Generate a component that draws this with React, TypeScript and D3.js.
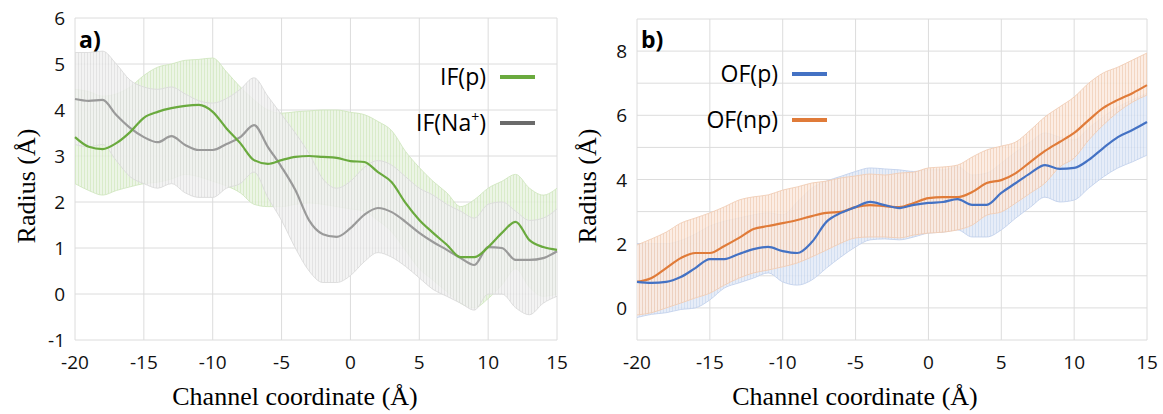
import React, { useEffect, useRef } from "react";
import * as d3 from "d3";

// channel coordinate samples (Å)
const coords = [
  -20, -19, -18, -17, -16, -15, -14, -13, -12, -11, -10, -9, -8, -7, -6, -5, -4, -3,
  -2, -1, 0, 1, 2, 3, 4, 5, 6, 7, 8, 9, 10, 11, 12, 13, 14, 15,
];

// panel a) inward-facing
const ifP = [
  3.41, 3.2, 3.15, 3.28, 3.52, 3.83, 3.96, 4.04, 4.09, 4.11, 3.96, 3.6, 3.28, 2.91, 2.83, 2.91, 2.98, 3.0,
  2.98, 2.96, 2.89, 2.87, 2.65, 2.43, 1.98, 1.61, 1.33, 1.07, 0.8, 0.8, 1.02, 1.33, 1.57, 1.17, 1.02, 0.96,
];
const ifPUp = [
  4.45, 4.4, 4.3, 4.35, 4.5, 4.75, 4.93, 5.0, 5.08, 5.1, 5.13, 4.83, 4.5, 4.22, 4.0, 3.93, 3.96, 3.98,
  4.0, 4.0, 3.95, 3.9, 3.75, 3.55, 3.1, 2.75, 2.45, 2.2, 1.9, 2.05, 2.3, 2.45, 2.6, 2.3, 2.15, 2.3,
];
const ifPLo = [
  2.4, 2.25, 2.15, 2.25, 2.33, 2.4, 2.43, 2.5, 2.6, 2.55, 2.45, 2.35, 2.2, 1.95, 1.9, 1.9, 1.95, 1.98,
  1.95, 1.9, 1.85, 1.8, 1.6, 1.35, 0.95, 0.55, 0.3, 0.05, -0.2, -0.3, -0.1, 0.2, 0.55, 0.15, -0.05, 0.0,
];
const ifNa = [
  4.24, 4.2, 4.22, 3.89, 3.61, 3.41, 3.3, 3.43, 3.24, 3.13, 3.13, 3.26, 3.41, 3.67, 3.2, 2.76, 2.26, 1.6,
  1.3, 1.24, 1.43, 1.72, 1.87, 1.78, 1.57, 1.33, 1.13, 0.96, 0.78, 0.63, 1.02, 1.0, 0.74, 0.74, 0.78, 0.93,
];
const ifNaUp = [
  5.25, 5.25, 5.28, 5.0, 4.65, 4.5, 4.45, 4.5, 4.35, 4.2, 4.15, 4.25, 4.45, 4.7, 4.3, 3.9, 3.5, 3.05,
  2.5, 2.3, 2.45, 2.75, 2.9, 2.8, 2.55, 2.3, 2.15, 1.95, 1.8, 1.65, 1.95, 2.0, 1.8, 1.6, 1.65, 1.85,
];
const ifNaLo = [
  3.25, 3.2, 3.25, 2.9, 2.55, 2.4, 2.3, 2.4, 2.2, 2.1, 2.1, 2.3, 2.4, 2.65, 2.1, 1.6, 1.0, 0.5,
  0.25, 0.25, 0.4, 0.7, 0.9, 0.8, 0.6, 0.35, 0.1, -0.05, -0.2, -0.35, 0.0, 0.0, -0.3, -0.45, -0.2, -0.05,
];

// panel b) outward-facing
const ofP = [
  0.81, 0.78, 0.81, 0.96, 1.24, 1.52, 1.52, 1.68, 1.83, 1.9, 1.77, 1.71, 2.05, 2.68, 2.96, 3.14, 3.3, 3.2,
  3.11, 3.21, 3.27, 3.3, 3.39, 3.21, 3.21, 3.58, 3.89, 4.2, 4.45, 4.33, 4.36, 4.61, 4.98, 5.32, 5.54, 5.79,
];
const ofPUp = [
  2.0, 2.0, 2.0, 2.1, 2.3, 2.55, 2.7, 2.8, 2.9, 2.96, 2.9, 3.3, 3.73, 3.95, 4.1, 4.25, 4.36, 4.33,
  4.3, 4.25, 4.3, 4.3, 4.4, 4.14, 4.2, 4.51, 4.86, 5.17, 5.45, 5.32, 5.23, 5.6, 5.95, 6.26, 6.48, 6.69,
];
const ofPLo = [
  -0.3, -0.2, -0.15, -0.05, 0.0, 0.25, 0.62, 0.78, 0.93, 1.09, 0.81, 0.71, 0.87, 1.24, 1.59, 1.9, 2.12, 2.15,
  2.12, 2.21, 2.33, 2.36, 2.43, 2.21, 2.21, 2.43, 2.8, 3.14, 3.45, 3.3, 3.36, 3.73, 4.08, 4.36, 4.55, 4.76,
];
const ofNp = [
  0.81, 0.93, 1.24, 1.55, 1.71, 1.71, 1.93, 2.18, 2.46, 2.55, 2.64, 2.74, 2.86, 2.96, 2.99, 3.14, 3.2, 3.17,
  3.14, 3.27, 3.42, 3.45, 3.45, 3.61, 3.89, 3.98, 4.2, 4.55, 4.89, 5.17, 5.45, 5.85, 6.23, 6.48, 6.69, 6.94,
];
const ofNpUp = [
  1.96, 2.15, 2.36, 2.64, 2.8, 2.96, 3.15, 3.36, 3.46, 3.52, 3.67, 3.77, 3.89, 3.95, 4.05, 4.11, 4.17, 4.14,
  4.2, 4.23, 4.36, 4.39, 4.45, 4.7, 4.92, 5.04, 5.17, 5.54, 5.95, 6.26, 6.57, 7.0, 7.32, 7.5, 7.72, 7.94,
];
const ofNpLo = [
  -0.22, -0.15, 0.0, 0.15, 0.31, 0.46, 0.71, 0.93, 1.09, 1.18, 1.28, 1.4, 1.59, 1.8, 2.02, 2.18, 2.21, 2.21,
  2.18, 2.27, 2.33, 2.36, 2.43, 2.58, 2.89, 2.99, 3.27, 3.58, 3.89, 4.39, 4.67, 5.23, 5.7, 6.1, 6.41, 6.63,
];

const xTicks = [-20, -15, -10, -5, 0, 5, 10, 15];
const yTicksA = [-1, 0, 1, 2, 3, 4, 5, 6];
const yGridB = [-1, 0, 1, 2, 3, 4, 5, 6, 7, 8, 9];
const yTicksB = [0, 2, 4, 6, 8];

const TICK_FONT = "'Open Sans', Lato, sans-serif";
const TITLE_FONT = "'Liberation Serif', 'DejaVu Serif', serif";

type Series = {
  mean: number[];
  up: number[];
  lo: number[];
  color: string;
  legendColor?: string;
  fill: string;
  hatch: string;
  edge: string;
  legend: string;
};

function drawPanel(svg, id, opts) {
  const { x0, x1, y0, y1, yDomain, yGrid, yTicks, series, drawOrder, letter, legendX, legendY } = opts;

  const x = d3.scaleLinear().domain([-20, 15]).range([x0, x1]);
  const y = d3.scaleLinear().domain(yDomain).range([y1, y0]);
  const g = svg.append("g");

  // grid
  g.selectAll(".vg")
    .data(xTicks)
    .join("line")
    .attr("x1", (d) => x(d))
    .attr("x2", (d) => x(d))
    .attr("y1", y0)
    .attr("y2", y1)
    .attr("stroke", "#dcdcdc")
    .attr("stroke-width", 1);
  g.selectAll(".hg")
    .data(yGrid)
    .join("line")
    .attr("x1", x0)
    .attr("x2", x1)
    .attr("y1", (d) => y(d))
    .attr("y2", (d) => y(d))
    .attr("stroke", "#dcdcdc")
    .attr("stroke-width", 1);

  const defs = svg.append("defs");
  const area = d3
    .area<number>()
    .x((_, i) => x(coords[i]))
    .curve(d3.curveMonotoneX);
  const line = d3
    .line<number>()
    .x((_, i) => x(coords[i]))
    .y((d) => y(d))
    .curve(d3.curveMonotoneX);

  // error bands (hatched like excel error bars)
  series.forEach((s: Series, k: number) => {
    const pid = `${id}-hatch-${k}`;
    const pat = defs
      .append("pattern")
      .attr("id", pid)
      .attr("patternUnits", "userSpaceOnUse")
      .attr("width", 3)
      .attr("height", 10);
    pat.append("rect").attr("width", 3).attr("height", 10).attr("fill", s.fill);
    pat
      .append("line")
      .attr("x1", 0.5)
      .attr("x2", 0.5)
      .attr("y1", 0)
      .attr("y2", 10)
      .attr("stroke", s.hatch)
      .attr("stroke-width", 0.8);

    const band = s.mean.map((_, i) => i);
    g.append("path")
      .datum(band)
      .attr("d", area.y0((i) => y(s.lo[i])).y1((i) => y(s.up[i])))
      .attr("fill", `url(#${pid})`)
      .attr("opacity", 0.85);
    [s.up, s.lo].forEach((edge) => {
      g.append("path")
        .datum(edge)
        .attr("d", line)
        .attr("fill", "none")
        .attr("stroke", s.edge)
        .attr("stroke-width", 0.9);
    });
  });

  // mean lines
  drawOrder.forEach((k: number) => {
    const s = series[k];
    g.append("path")
      .datum(s.mean)
      .attr("d", line)
      .attr("fill", "none")
      .attr("stroke", s.color)
      .attr("stroke-width", 2.2)
      .attr("stroke-linejoin", "round");
  });

  // tick labels
  g.selectAll(".xt")
    .data(xTicks)
    .join("text")
    .attr("x", (d) => x(d))
    .attr("y", y1 + 29)
    .attr("text-anchor", "middle")
    .attr("font-family", TICK_FONT)
    .attr("font-size", 19)
    .attr("fill", "#111")
    .text((d) => String(d));
  g.selectAll(".yt")
    .data(yTicks)
    .join("text")
    .attr("x", x0 - 10)
    .attr("y", (d) => y(d) + 7)
    .attr("text-anchor", "end")
    .attr("font-family", TICK_FONT)
    .attr("font-size", 19)
    .attr("fill", "#111")
    .text((d) => String(d));

  // panel letter
  g.append("text")
    .attr("x", x0 + 4)
    .attr("y", 48)
    .attr("font-family", TICK_FONT)
    .attr("font-weight", 700)
    .attr("font-size", 23)
    .attr("fill", "#000")
    .text(letter);

  // legend
  series.forEach((s: Series, k: number) => {
    const ly = legendY + k * 46;
    const t = g
      .append("text")
      .attr("x", legendX)
      .attr("y", ly + 8)
      .attr("text-anchor", "end")
      .attr("font-family", TICK_FONT)
      .attr("font-size", 23)
      .attr("fill", "#000");
    if (s.legend.includes("+")) {
      t.append("tspan").text(s.legend.replace("+)", ""));
      t.append("tspan").attr("font-size", 14).attr("dy", -9).text("+");
      t.append("tspan").attr("dy", 9).text(")");
    } else {
      t.text(s.legend);
    }
    g.append("line")
      .attr("x1", legendX + 14)
      .attr("x2", legendX + 49)
      .attr("y1", ly)
      .attr("y2", ly)
      .attr("stroke", s.legendColor || s.color)
      .attr("stroke-width", 4);
  });

  // axis titles
  g.append("text")
    .attr("x", opts.xTitleX)
    .attr("y", 405)
    .attr("text-anchor", "middle")
    .attr("font-family", TITLE_FONT)
    .attr("font-size", 26)
    .attr("fill", "#000")
    .text("Channel coordinate (Å)");
  g.append("text")
    .attr("transform", `translate(${opts.yTitleX}, 186) rotate(-90)`)
    .attr("text-anchor", "middle")
    .attr("font-family", TITLE_FONT)
    .attr("font-size", 26)
    .attr("fill", "#000")
    .text("Radius (Å)");
}

export default function App() {
  const ref = useRef<SVGSVGElement>(null);

  useEffect(() => {
    const svg = d3.select(ref.current);
    svg.selectAll("*").remove();

    const seriesA: Series[] = [
      {
        mean: ifP,
        up: ifPUp,
        lo: ifPLo,
        color: "#6aaa3e",
        fill: "#e9f3e1",
        hatch: "#cce4b9",
        edge: "#d0e6c0",
        legend: "IF(p)",
      },
      {
        mean: ifNa,
        up: ifNaUp,
        lo: ifNaLo,
        color: "#9a9a9a",
        legendColor: "#6b6b6b",
        fill: "#f1f1f1",
        hatch: "#d9d9d9",
        edge: "#dadada",
        legend: "IF(Na+)",
      },
    ];
    const seriesB: Series[] = [
      {
        mean: ofP,
        up: ofPUp,
        lo: ofPLo,
        color: "#4472c4",
        fill: "#e3eaf7",
        hatch: "#c5d4ee",
        edge: "#c3d1ec",
        legend: "OF(p)",
      },
      {
        mean: ofNp,
        up: ofNpUp,
        lo: ofNpLo,
        color: "#e07b39",
        fill: "#fbeadf",
        hatch: "#efc8ad",
        edge: "#f1cdb5",
        legend: "OF(np)",
      },
    ];

    drawPanel(svg, "a", {
      x0: 75,
      x1: 557,
      y0: 18,
      y1: 340,
      yDomain: [-1, 6],
      yGrid: yTicksA,
      yTicks: yTicksA,
      series: seriesA,
      drawOrder: [1, 0],
      letter: "a)",
      legendX: 486,
      legendY: 77,
      xTitleX: 295,
      yTitleX: 35,
    });
    drawPanel(svg, "b", {
      x0: 637,
      x1: 1147,
      y0: 19,
      y1: 340,
      yDomain: [-1, 9],
      yGrid: yGridB,
      yTicks: yTicksB,
      series: seriesB,
      drawOrder: [1, 0],
      letter: "b)",
      legendX: 778,
      legendY: 74,
      xTitleX: 855,
      yTitleX: 596,
    });
  }, []);

  return (
    <svg
      ref={ref}
      width={1163}
      height={414}
      style={{ position: "absolute", left: 0, top: 0, background: "#fff" }}
    />
  );
}
